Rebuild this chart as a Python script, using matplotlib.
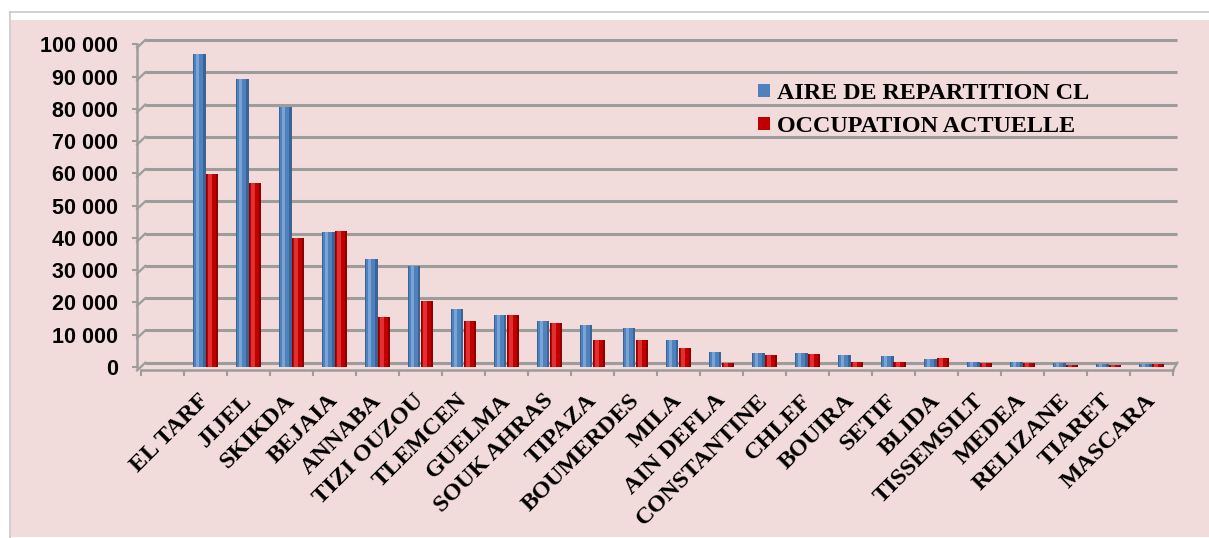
import numpy as np
import matplotlib.pyplot as plt
from matplotlib.patches import Patch, Rectangle
from matplotlib.lines import Line2D
from matplotlib.ticker import FuncFormatter
from matplotlib.transforms import ScaledTranslation

wilayas = ['EL TARF', 'JIJEL', 'SKIKDA', 'BEJAIA', 'ANNABA', 'TIZI OUZOU', 'TLEMCEN',
           'GUELMA', 'SOUK AHRAS', 'TIPAZA', 'BOUMERDES', 'MILA', 'AIN DEFLA',
           'CONSTANTINE', 'CHLEF', 'BOUIRA', 'SETIF', 'BLIDA', 'TISSEMSILT',
           'MEDEA', 'RELIZANE', 'TIARET', 'MASCARA']
aire = [97000, 89300, 80500, 41800, 33500, 31300, 18000, 16000, 14200, 12900, 12100,
        8300, 4700, 4300, 4300, 3800, 3300, 2500, 1700, 1500, 1300, 1000, 900]
occupation = [59700, 57000, 40000, 42000, 15500, 20500, 14300, 16000, 13500, 8500, 8500,
              5900, 1200, 3800, 4000, 1700, 1400, 2700, 1200, 1300, 600, 500, 800]
series_names = ['AIRE DE REPARTITION CL', 'OCCUPATION ACTUELLE']
yticks = np.arange(0, 100001, 10000)

blue = ['#4F81BD', '#7aa3d6', '#3a6494']
red = ['#C00000', '#e23030', '#8c0000']
grid_col = '#9c9c9c'

W, H = 1209, 538
fig = plt.figure(figsize=(W / 100, H / 100), dpi=100)
fig.patch.set_facecolor('white')

# pink chart area with a thin grey frame on top and left
fig.patches.append(Rectangle((11 / W, 1 / H), 1, 517 / H, transform=fig.transFigure,
                             facecolor='#F2DCDB', edgecolor='none', zorder=-10))
fig.add_artist(Line2D([10 / W, 1], [1 - 12 / H] * 2, color='#c8c8c8', lw=1.2))
fig.add_artist(Line2D([10 / W] * 2, [0, 1 - 12 / H], color='#c8c8c8', lw=1.2))

ax = fig.add_axes([141 / W, 171 / H, 1032 / W, 322.7 / H])
ax.patch.set_alpha(0)
x0, x1 = -1.5, len(wilayas) - 0.5
ax.set_xlim(x0, x1)
ax.set_ylim(0, 100000)

# depth of the pseudo 3D box (back wall / front edge), in data units
dx_back, dy_back = 0.1, 1330
dx_front, dy_front = 0.093, 1085

# back wall gridlines and the little connectors to the front axis
for v in yticks:
    ax.plot([x0 + dx_back, x1 + dx_back], [v + dy_back] * 2, color=grid_col, lw=2.2,
            clip_on=False, zorder=1, solid_capstyle='butt')
    ax.plot([x0 - dx_front, x0 + dx_back], [v - dy_front, v + dy_back], color=grid_col,
            lw=1.6, clip_on=False, zorder=1)
ax.plot([x1 - dx_front + 0.09, x1 + dx_back], [-dy_front, dy_back], color=grid_col,
        lw=1.6, clip_on=False, zorder=1)

w = 0.30


def cylinders(xc, vals, cols):
    # dark body, mid colour core, light highlight strip
    ax.bar(xc, vals, w, color=cols[2], zorder=3)
    ax.bar(xc - w * 0.06, vals, w * 0.72, color=cols[0], zorder=3)
    ax.bar(xc - w * 0.14, vals, w * 0.26, color=cols[1], zorder=3)


x = np.arange(len(wilayas))
cylinders(x - w / 2, aire, blue)
cylinders(x + w / 2, occupation, red)

for s in ['top', 'right']:
    ax.spines[s].set_visible(False)
ax.spines['left'].set_position(('outward', 2.9))
ax.spines['bottom'].set_position(('outward', 2.5))
for s in ['left', 'bottom']:
    ax.spines[s].set_color(grid_col)
    ax.spines[s].set_linewidth(1.8)

ax.set_yticks(yticks)
ax.yaxis.set_major_formatter(FuncFormatter(lambda v, p: f'{int(v):,}'.replace(',', ' ')))
ax.tick_params(axis='y', length=3.6, width=1.5, color=grid_col, pad=10)
for lab in ax.get_yticklabels():
    lab.set_fontfamily('Liberation Sans')
    lab.set_fontweight('bold')
    lab.set_fontsize(15.5)

ax.set_xticks(x)
ax.set_xticklabels(wilayas, rotation=45, ha='right', rotation_mode='anchor',
                   fontfamily='Liberation Serif', fontweight='bold', fontsize=17.5)
ax.set_xticks(np.arange(x0, x1 + 0.01, 1), minor=True)
ax.tick_params(axis='x', which='major', length=0, pad=14)
ax.tick_params(axis='x', which='minor', length=4.3, width=1.5, color=grid_col)
# nudge the slanted names a little to the left
shift = ScaledTranslation(-7 / 100, 0, fig.dpi_scale_trans)
for lab in ax.get_xticklabels():
    lab.set_transform(lab.get_transform() + shift)

handles = [Patch(facecolor=blue[0]), Patch(facecolor=red[0])]
ax.legend(handles, series_names, loc='upper left', bbox_to_anchor=(758 / W, 1 - 83 / H),
          bbox_transform=fig.transFigure, frameon=False,
          prop={'family': 'Liberation Serif', 'weight': 'bold', 'size': 17.4},
          handlelength=0.5, handleheight=0.5, handletextpad=0.3, labelspacing=0.5,
          borderpad=0, borderaxespad=0)

fig.savefig('out.png', dpi=100, facecolor=fig.get_facecolor())
